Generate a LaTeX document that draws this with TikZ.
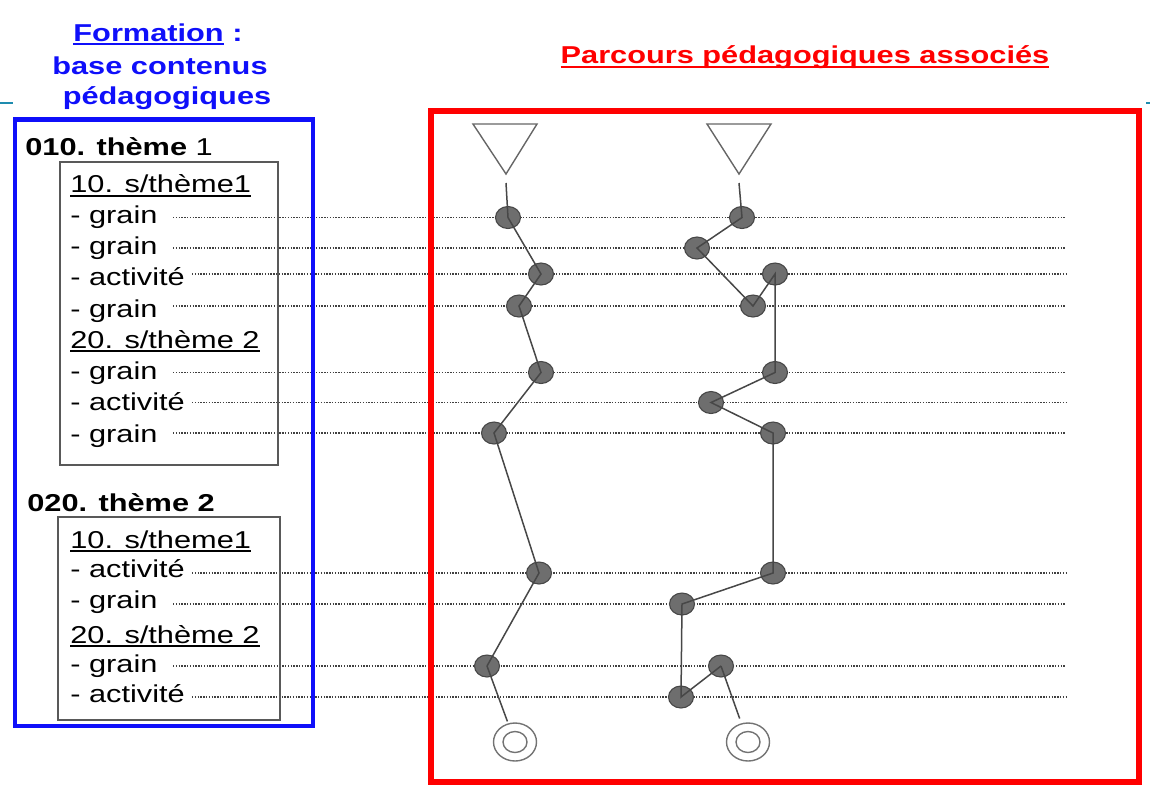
\documentclass[tikz,border=0pt]{standalone}
\usepackage{fontspec}
\setmainfont{Liberation Sans}[FakeStretch=1.26]
\usetikzlibrary{shapes.geometric}
\newcommand\myul[2][2pt]{\setbox0\hbox{#2}\rlap{\rule[-#1]{\wd0}{0.9pt}}\box0\relax}
\definecolor{tealbar}{RGB}{30,140,175}
\definecolor{tblue}{RGB}{15,15,250}
\begin{document}
\begin{tikzpicture}[x=0.5pt,y=-0.5pt,
  font=\fontsize{12.2pt}{15pt}\selectfont,
  txt/.style={anchor=base west, inner sep=0pt},
  ttl/.style={anchor=base, inner sep=0pt, font=\fontsize{12.2pt}{15pt}\selectfont\bfseries},
  dotl/.style={draw=black!75, line width=0.6pt, dash pattern=on 0.7pt off 0.7pt},
  bead/.style={ellipse, draw=black!72, fill=black!57, line width=0.55pt, minimum width=12.5pt, minimum height=11pt, inner sep=0pt},
  link/.style={draw=black!72, line width=0.75pt},
  goal/.style={ellipse, draw=black!55, line width=0.7pt, inner sep=0pt},
  tri/.style={draw=black!60, line width=0.7pt, line join=miter},
  sub/.style={draw=black!65, line width=0.7pt}]
\useasboundingbox (0,0) rectangle (1150,800);

% decorative teal marks
\coordinate (ta) at (0,103); \coordinate (tb) at (13,103);
\draw[tealbar, line width=1.1pt] (ta) -- (tb);
\coordinate (tc) at (1146,103); \coordinate (td) at (1150,103);
\draw[tealbar, line width=1.1pt] (tc) -- (td);

% titles
\node[ttl, text=tblue] (f1) at (158,41.7) {\myul[1.6pt]{Formation} :};
\node[ttl, text=tblue] (f2) at (160,74) {base contenus};
\node[ttl, text=tblue] (f3) at (167,104) {pédagogiques};
\node[ttl, text=red] (p1) at (805,63) {\myul[2.5pt]{Parcours pédagogiques associés}};

% dotted lines and items
\foreach \n/\t/\b/\y/\s in {1/grain/223/217.5/173, 2/grain/254.5/248/173, 3/activité/285.5/274/192,
  4/grain/317/306/173, 5/grain/379.5/372.5/173, 6/activité/410.5/402.5/192, 7/grain/442/433/173,
  8/activité/577/573/192, 9/grain/608/604/173, 10/grain/672/666/173, 11/activité/702/697/192}{
  \node[txt] (i\n) at (70,\b) {- \t};
  \coordinate (a\n) at (\s,\y);
  \coordinate (b\n) at (1066,\y);
  \draw[dotl] (a\n) -- (b\n);
}

% headings
\node[txt] (h1) at (25,155) {\textbf{010. thème} 1};
\node[txt] (h2) at (27,511.7) {\textbf{020. thème 2}};
\node[txt] (s1) at (70,192.7) {\myul{10. s/thème1}};
\node[txt] (s2) at (70,348) {\myul{20. s/thème 2}};
\node[txt] (s3) at (70,548) {\myul{10. s/theme1}};
\node[txt] (s4) at (70,643) {\myul{20. s/thème 2}};

% boxes
\draw[sub] (60,162) rectangle (278,465);
\draw[sub] (58,517) rectangle (280,720);
\draw[tblue, line width=2.3pt] (15,119.5) rectangle (313,726);
\draw[red, line width=2.8pt] (431,111) rectangle (1139,782);

% start triangles
\draw[tri] (473,124) -- (537,124) -- (506,174) -- cycle;
\draw[tri] (707,124) -- (771,124) -- (739,174) -- cycle;
\coordinate (T1) at (506,183);
\coordinate (T2) at (739,183);

% beads, left path
\node[bead] (L1) at (508,217.5) {};
\node[bead] (L2) at (541,274) {};
\node[bead] (L3) at (519,306) {};
\node[bead] (L4) at (541,372.5) {};
\node[bead] (L5) at (494,433) {};
\node[bead] (L6) at (539,573) {};
\node[bead] (L7) at (487,666) {};
% beads, right path
\node[bead] (R1) at (742,217.5) {};
\node[bead] (R2) at (697,248) {};
\node[bead] (R3) at (753,306) {};
\node[bead] (R4) at (775,274) {};
\node[bead] (R5) at (775,372.5) {};
\node[bead] (R6) at (711,402.5) {};
\node[bead] (R7) at (773,433) {};
\node[bead] (R8) at (773,573) {};
\node[bead] (R9) at (682,604) {};
\node[bead] (R10) at (681,697) {};
\node[bead] (R11) at (721,666) {};

% targets
\node[goal, minimum width=21.5pt, minimum height=19pt] (G1) at (515,742) {};
\node[goal, minimum width=12pt, minimum height=10.5pt] (G1i) at (515,742) {};
\node[goal, minimum width=21.5pt, minimum height=19pt] (G2) at (748,742) {};
\node[goal, minimum width=12pt, minimum height=10.5pt] (G2i) at (748,742) {};

% links
\draw[link] (T1) -- (L1.center) -- (L2.center) -- (L3.center) -- (L4.center) -- (L5.center) -- (L6.center) -- (L7.center);
\draw[link, shorten >=1pt] (L7.center) -- (G1);
\draw[link] (T2) -- (R1.center) -- (R2.center) -- (R3.center) -- (R4.center) -- (R5.center) -- (R6.center) -- (R7.center) -- (R8.center) -- (R9.center) -- (R10.center) -- (R11.center);
\draw[link, shorten >=2.5pt] (R11.center) -- (G2);
\end{tikzpicture}
\end{document}
